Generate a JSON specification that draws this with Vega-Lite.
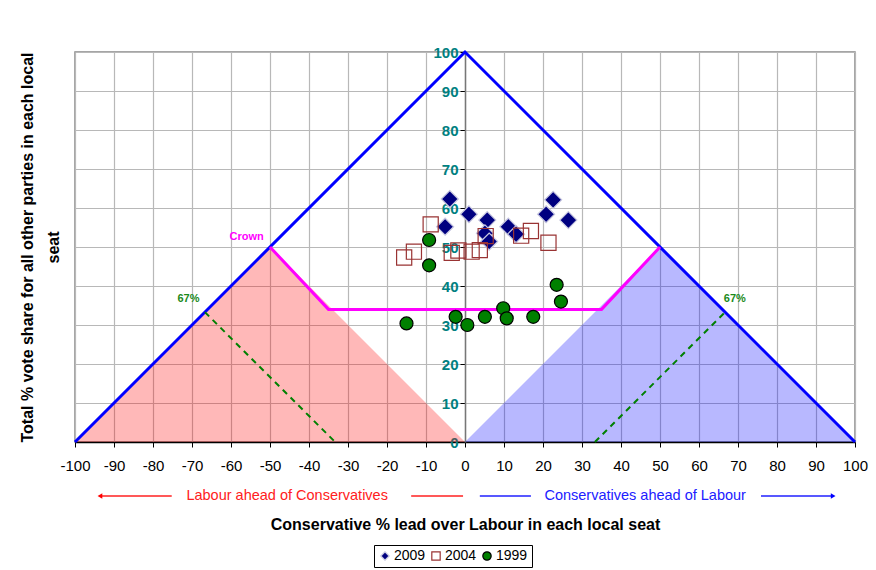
{
  "$schema": "https://vega.github.io/schema/vega-lite/v6.json",
  "width": 780,
  "height": 390,
  "autosize": {"type": "none"},
  "padding": {"left": 75, "top": 52, "right": 21, "bottom": 128},
  "background": "white",
  "config": {
    "font": "Liberation Sans",
    "view": {"stroke": "#888888", "strokeWidth": 1.5},
    "axis": {"gridColor": "#b8b8b8", "gridWidth": 1.2, "gridOpacity": 1},
    "legend": {"orient": "none", "legendX": 299, "legendY": 493, "direction": "horizontal", "title": null,
      "strokeColor": "#000000", "padding": 4, "labelFontSize": 14, "labelColor": "#000000",
      "symbolSize": 70, "columnPadding": 3, "labelOffset": 2, "symbolStrokeWidth": 1.2}
  },
  "resolve": {"legend": {"size": "independent"}},
  "layer": [
    {
      "data": {"values": [
        {"x": -100, "y": 0, "side": "Labour"}, {"x": -50, "y": 50, "side": "Labour"}, {"x": 0, "y": 0, "side": "Labour"},
        {"x": 0, "y": 0, "side": "Conservative"}, {"x": 50, "y": 50, "side": "Conservative"}, {"x": 100, "y": 0, "side": "Conservative"}
      ]},
      "mark": {"type": "area", "orient": "vertical", "opacity": 0.28},
      "encoding": {
        "x": {"field": "x", "type": "quantitative",
          "scale": {"domain": [-100, 100], "nice": false, "zero": false},
          "axis": {
            "orient": "bottom", "values": [-100,-90,-80,-70,-60,-50,-40,-30,-20,-10,0,10,20,30,40,50,60,70,80,90,100],
            "tickCount": 50,
            "labelExpr": "toString(datum.value)",
            "grid": true, "domainColor": "#000000", "domainWidth": 1.5, "tickColor": "#000000", "tickSize": 5,
            "labelFontSize": 15, "labelColor": "#000000", "labelPadding": 11, "labelFlush": false, "labelOverlap": false,
            "title": "Conservative % lead over Labour in each local seat",
            "titleFontSize": 16, "titleFontWeight": "bold", "titleColor": "#000000", "titlePadding": 43
          }},
        "y": {"field": "y", "type": "quantitative",
          "scale": {"domain": [0, 100], "nice": false},
          "axis": {
            "orient": "left", "offset": -390, "values": [0,10,20,30,40,50,60,70,80,90,100],
            "tickCount": 50,
            "labelOverlap": false, "labelFlush": false,
            "grid": true, "domainColor": "#777777", "domainWidth": 1.5, "tickColor": "#000000", "tickSize": 5,
            "labelFontSize": 15, "labelFontWeight": "bold", "labelColor": "#008080", "labelPadding": 2,
            "title": ["Total % vote share for all other parties in each local", "seat"],
            "titleFontSize": 16, "titleFontWeight": "bold", "titleColor": "#000000",
            "titleX": -438, "titleY": 195, "titleBaseline": "middle", "titleLineHeight": 26
          }},
        "color": {"field": "side", "type": "nominal",
          "scale": {"domain": ["Labour", "Conservative"], "range": ["#ff0000", "#0000ff"]}, "legend": null}
      }
    },
    {
      "data": {"values": [{"x": -100, "y": 0}, {"x": 0, "y": 100}, {"x": 100, "y": 0}]},
      "mark": {"type": "line", "color": "#0000ff", "strokeWidth": 3},
      "encoding": {"x": {"field": "x", "type": "quantitative"}, "y": {"field": "y", "type": "quantitative"}}
    },
    {
      "data": {"values": [{"x": -50, "y": 50}, {"x": -35, "y": 34}, {"x": 35, "y": 34}, {"x": 50, "y": 50}]},
      "mark": {"type": "line", "color": "#ff00ff", "strokeWidth": 3},
      "encoding": {"x": {"field": "x", "type": "quantitative"}, "y": {"field": "y", "type": "quantitative"}}
    },
    {
      "data": {"values": [
        {"x": -66.7, "y": 33.3, "x2": -33.3, "y2": 0},
        {"x": 33.3, "y": 0, "x2": 66.7, "y2": 33.3}
      ]},
      "mark": {"type": "rule", "color": "#008000", "strokeWidth": 2, "strokeDash": [6, 5]},
      "encoding": {
        "x": {"field": "x", "type": "quantitative"}, "y": {"field": "y", "type": "quantitative"},
        "x2": {"field": "x2"}, "y2": {"field": "y2"}
      }
    },
    {
      "data": {"values": [{"x": -56, "y": 52.5, "label": "Crown"}]},
      "mark": {"type": "text", "color": "#ff00ff", "fontSize": 11, "fontWeight": "bold"},
      "encoding": {"x": {"field": "x", "type": "quantitative"}, "y": {"field": "y", "type": "quantitative"}, "text": {"field": "label"}}
    },
    {
      "data": {"values": [{"x": -70.9, "y": 36.7, "label": "67%"}, {"x": 69.2, "y": 36.7, "label": "67%"}]},
      "mark": {"type": "text", "color": "#1a8a1a", "fontSize": 11, "fontWeight": "bold"},
      "encoding": {"x": {"field": "x", "type": "quantitative"}, "y": {"field": "y", "type": "quantitative"}, "text": {"field": "label"}}
    },
    {
      "data": {"values": [{"x": -93.5, "y": -13.85, "x2": -75.2}, {"x": -13.8, "y": -13.85, "x2": -0.5}]},
      "mark": {"type": "rule", "color": "#ff2020", "strokeWidth": 1.3},
      "encoding": {"x": {"field": "x", "type": "quantitative"}, "y": {"field": "y", "type": "quantitative"}, "x2": {"field": "x2"}}
    },
    {
      "data": {"values": [{"x": 3.8, "y": -13.85, "x2": 16.9}, {"x": 75.9, "y": -13.85, "x2": 94.3}]},
      "mark": {"type": "rule", "color": "#2020ff", "strokeWidth": 1.3},
      "encoding": {"x": {"field": "x", "type": "quantitative"}, "y": {"field": "y", "type": "quantitative"}, "x2": {"field": "x2"}}
    },
    {
      "data": {"values": [{"x": -93.6, "y": -13.85}]},
      "mark": {"type": "point", "shape": "triangle-left", "filled": true, "color": "#ff0000", "size": 30, "opacity": 1},
      "encoding": {"x": {"field": "x", "type": "quantitative"}, "y": {"field": "y", "type": "quantitative"}}
    },
    {
      "data": {"values": [{"x": 94.4, "y": -13.85}]},
      "mark": {"type": "point", "shape": "triangle-right", "filled": true, "color": "#0000ff", "size": 30, "opacity": 1},
      "encoding": {"x": {"field": "x", "type": "quantitative"}, "y": {"field": "y", "type": "quantitative"}}
    },
    {
      "data": {"values": [{"x": -45.6, "y": -13.85, "label": "Labour ahead of Conservatives"}]},
      "mark": {"type": "text", "color": "#ff2020", "fontSize": 14.5},
      "encoding": {"x": {"field": "x", "type": "quantitative"}, "y": {"field": "y", "type": "quantitative"}, "text": {"field": "label"}}
    },
    {
      "data": {"values": [{"x": 46.2, "y": -13.85, "label": "Conservatives ahead of Labour"}]},
      "mark": {"type": "text", "color": "#2020ff", "fontSize": 14.5},
      "encoding": {"x": {"field": "x", "type": "quantitative"}, "y": {"field": "y", "type": "quantitative"}, "text": {"field": "label"}}
    },
    {
      "data": {"values": [
        {"x": -3.9, "y": 62.3, "year": "2009"}, {"x": -5.1, "y": 55.2, "year": "2009"}, {"x": 1.0, "y": 58.4, "year": "2009"},
        {"x": 5.7, "y": 56.9, "year": "2009"}, {"x": 5.1, "y": 53.5, "year": "2009"}, {"x": 6.2, "y": 51.4, "year": "2009"},
        {"x": 11.1, "y": 55.2, "year": "2009"}, {"x": 13.1, "y": 53.3, "year": "2009"}, {"x": 20.8, "y": 58.4, "year": "2009"},
        {"x": 22.6, "y": 62.1, "year": "2009"}, {"x": 26.5, "y": 56.9, "year": "2009"},
        {"x": -8.8, "y": 55.8, "year": "2004"}, {"x": -13.1, "y": 48.8, "year": "2004"}, {"x": -15.6, "y": 47.3, "year": "2004"},
        {"x": -3.4, "y": 48.5, "year": "2004"}, {"x": -1.7, "y": 49.1, "year": "2004"}, {"x": 1.7, "y": 48.8, "year": "2004"},
        {"x": 3.8, "y": 49.2, "year": "2004"}, {"x": 5.3, "y": 52.8, "year": "2004"}, {"x": 14.4, "y": 52.9, "year": "2004"},
        {"x": 16.9, "y": 54.1, "year": "2004"}, {"x": 21.4, "y": 51.1, "year": "2004"},
        {"x": -9.2, "y": 51.8, "year": "1999"}, {"x": -9.2, "y": 45.3, "year": "1999"}, {"x": -15.0, "y": 30.4, "year": "1999"},
        {"x": -2.4, "y": 32.1, "year": "1999"}, {"x": 0.6, "y": 30.0, "year": "1999"}, {"x": 5.1, "y": 32.1, "year": "1999"},
        {"x": 9.8, "y": 34.3, "year": "1999"}, {"x": 10.7, "y": 31.7, "year": "1999"}, {"x": 17.5, "y": 32.1, "year": "1999"},
        {"x": 23.5, "y": 40.3, "year": "1999"}, {"x": 24.6, "y": 36.0, "year": "1999"}
      ]},
      "mark": {"type": "point", "opacity": 1, "strokeWidth": 1.2},
      "encoding": {
        "x": {"field": "x", "type": "quantitative"},
        "y": {"field": "y", "type": "quantitative"},
        "shape": {"field": "year", "type": "nominal",
          "scale": {"domain": ["2009", "2004", "1999"], "range": ["diamond", "square", "circle"]}},
        "fill": {"field": "year", "type": "nominal",
          "scale": {"domain": ["2009", "2004", "1999"], "range": ["#000080", "transparent", "#008000"]}},
        "stroke": {"field": "year", "type": "nominal",
          "scale": {"domain": ["2009", "2004", "1999"], "range": ["#c8c8e0", "#993333", "#000000"]}},
        "size": {"field": "year", "type": "nominal",
          "scale": {"domain": ["2009", "2004", "1999"], "range": [289, 169, 169]}, "legend": null}
      }
    }
  ]
}
